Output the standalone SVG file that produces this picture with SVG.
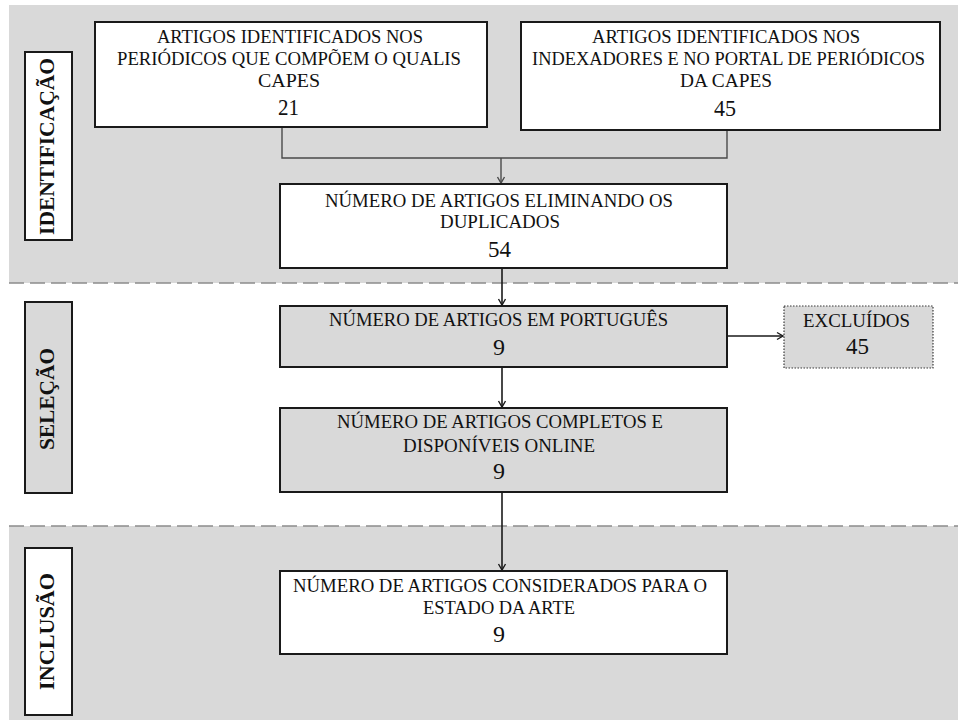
<svg xmlns="http://www.w3.org/2000/svg" width="958" height="720" viewBox="0 0 958 720">
  <defs>
    <marker id="arrow" markerWidth="10" markerHeight="10" refX="8" refY="5" orient="auto" markerUnits="userSpaceOnUse">
      <path d="M2,1.5 L8,5 L2,8.5" fill="none" stroke="#1a1a1a" stroke-width="1.4"/>
    </marker>
    <marker id="arrow-grey" markerWidth="10" markerHeight="10" refX="8" refY="5" orient="auto" markerUnits="userSpaceOnUse">
      <path d="M2,1.5 L8,5 L2,8.5" fill="none" stroke="#4a4a4a" stroke-width="1.4"/>
    </marker>
  </defs>
  <style>
    .band { fill: #d9d9d9; }
    .divider { stroke: #8c8c8c; stroke-width: 1.6; stroke-dasharray: 15 6; fill: none; }
    .box { stroke: #1a1a1a; stroke-width: 2; }
    .white { fill: #ffffff; }
    .grey { fill: #d9d9d9; }
    .dotted { fill: #d9d9d9; stroke: #3a3a3a; stroke-width: 1.2; stroke-dasharray: 1.5 1.5; }
    .txt { font-family: "Liberation Serif", "Times New Roman", serif; font-size: 19px; fill: #111111; text-anchor: middle; }
    .num { font-family: "Liberation Serif", "Times New Roman", serif; font-size: 24px; fill: #111111; text-anchor: middle; }
    .stage { font-family: "Liberation Serif", "Times New Roman", serif; font-size: 21px; font-weight: bold; fill: #111111; text-anchor: middle; }
    .link { stroke: #1a1a1a; stroke-width: 1.6; fill: none; }
    .link-grey { stroke: #4a4a4a; stroke-width: 1.4; fill: none; }
  </style>

  <!-- stage bands -->
  <rect class="band" x="9" y="5" width="949" height="278"/>
  <rect class="band" x="9" y="526" width="949" height="194"/>
  <line class="divider" x1="9" y1="283" x2="958" y2="283"/>
  <line class="divider" x1="9" y1="526" x2="958" y2="526"/>

  <!-- stage labels -->
  <g id="stage-identificacao">
    <rect class="box white" x="25" y="52" width="47" height="188"/>
    <text class="stage" transform="translate(54,146.5) rotate(-90)" textLength="177" lengthAdjust="spacingAndGlyphs">IDENTIFICAÇÃO</text>
  </g>
  <g id="stage-selecao">
    <rect class="box grey" x="25" y="302" width="47" height="191"/>
    <text class="stage" transform="translate(54,399) rotate(-90)" textLength="102" lengthAdjust="spacingAndGlyphs">SELEÇÃO</text>
  </g>
  <g id="stage-inclusao">
    <rect class="box white" x="25" y="548" width="47" height="167"/>
    <text class="stage" transform="translate(54,631.5) rotate(-90)" textLength="117" lengthAdjust="spacingAndGlyphs">INCLUSÃO</text>
  </g>

  <!-- connectors -->
  <g id="connectors">
    <polyline class="link-grey" points="282,127 282,158 727,158 727,130"/>
    <line class="link-grey" x1="501" y1="158" x2="501" y2="183" marker-end="url(#arrow-grey)"/>
    <line class="link" x1="502" y1="268" x2="502" y2="305" marker-end="url(#arrow)"/>
    <line class="link" x1="502" y1="367" x2="502" y2="407" marker-end="url(#arrow)"/>
    <line class="link" x1="502" y1="492" x2="502" y2="570" marker-end="url(#arrow)"/>
    <line class="link" x1="727" y1="336" x2="783" y2="336" marker-end="url(#arrow)"/>
  </g>

  <!-- nodes -->
  <g id="node-qualis">
    <rect class="box white" x="95" y="22" width="392" height="105"/>
    <text class="txt" x="290" y="43" textLength="266" lengthAdjust="spacingAndGlyphs">ARTIGOS IDENTIFICADOS NOS</text>
    <text class="txt" x="289" y="64.5" textLength="344" lengthAdjust="spacingAndGlyphs">PERIÓDICOS QUE COMPÕEM O QUALIS</text>
    <text class="txt" x="289" y="86.5" textLength="62" lengthAdjust="spacingAndGlyphs">CAPES</text>
    <text class="num" x="288.5" y="115" textLength="21" lengthAdjust="spacingAndGlyphs">21</text>
  </g>

  <g id="node-indexadores">
    <rect class="box white" x="521" y="22" width="419" height="108"/>
    <text class="txt" x="726" y="43" textLength="268" lengthAdjust="spacingAndGlyphs">ARTIGOS IDENTIFICADOS NOS</text>
    <text class="txt" x="728.5" y="64.5" textLength="393" lengthAdjust="spacingAndGlyphs">INDEXADORES E NO PORTAL DE PERIÓDICOS</text>
    <text class="txt" x="726" y="86.5" textLength="92" lengthAdjust="spacingAndGlyphs">DA CAPES</text>
    <text class="num" x="725" y="116" textLength="22" lengthAdjust="spacingAndGlyphs">45</text>
  </g>

  <g id="node-sem-duplicados">
    <rect class="box white" x="280" y="184" width="447" height="84"/>
    <text class="txt" x="499" y="207" textLength="348" lengthAdjust="spacingAndGlyphs">NÚMERO DE ARTIGOS ELIMINANDO OS</text>
    <text class="txt" x="500" y="228" textLength="120" lengthAdjust="spacingAndGlyphs">DUPLICADOS</text>
    <text class="num" x="499.5" y="257" textLength="23" lengthAdjust="spacingAndGlyphs">54</text>
  </g>

  <g id="node-portugues">
    <rect class="box grey" x="280" y="306" width="447" height="61"/>
    <text class="txt" x="498.5" y="326" textLength="339" lengthAdjust="spacingAndGlyphs">NÚMERO DE ARTIGOS EM PORTUGUÊS</text>
    <text class="num" x="499" y="355" textLength="12" lengthAdjust="spacingAndGlyphs">9</text>
  </g>

  <g id="node-excluidos">
    <rect class="dotted" x="784" y="306" width="149" height="62"/>
    <text class="txt" x="856.5" y="327" textLength="107" lengthAdjust="spacingAndGlyphs">EXCLUÍDOS</text>
    <text class="num" x="857.5" y="354" textLength="23" lengthAdjust="spacingAndGlyphs">45</text>
  </g>

  <g id="node-completos">
    <rect class="box grey" x="280" y="408" width="447" height="84"/>
    <text class="txt" x="500" y="428" textLength="326" lengthAdjust="spacingAndGlyphs">NÚMERO DE ARTIGOS COMPLETOS E</text>
    <text class="txt" x="499" y="452" textLength="192" lengthAdjust="spacingAndGlyphs">DISPONÍVEIS ONLINE</text>
    <text class="num" x="499" y="479" textLength="12" lengthAdjust="spacingAndGlyphs">9</text>
  </g>

  <g id="node-estado-da-arte">
    <rect class="box white" x="280" y="571" width="447" height="83"/>
    <text class="txt" x="500" y="592" textLength="414" lengthAdjust="spacingAndGlyphs">NÚMERO DE ARTIGOS CONSIDERADOS PARA O</text>
    <text class="txt" x="499" y="613.5" textLength="152" lengthAdjust="spacingAndGlyphs">ESTADO DA ARTE</text>
    <text class="num" x="499" y="642" textLength="12" lengthAdjust="spacingAndGlyphs">9</text>
  </g>
</svg>
